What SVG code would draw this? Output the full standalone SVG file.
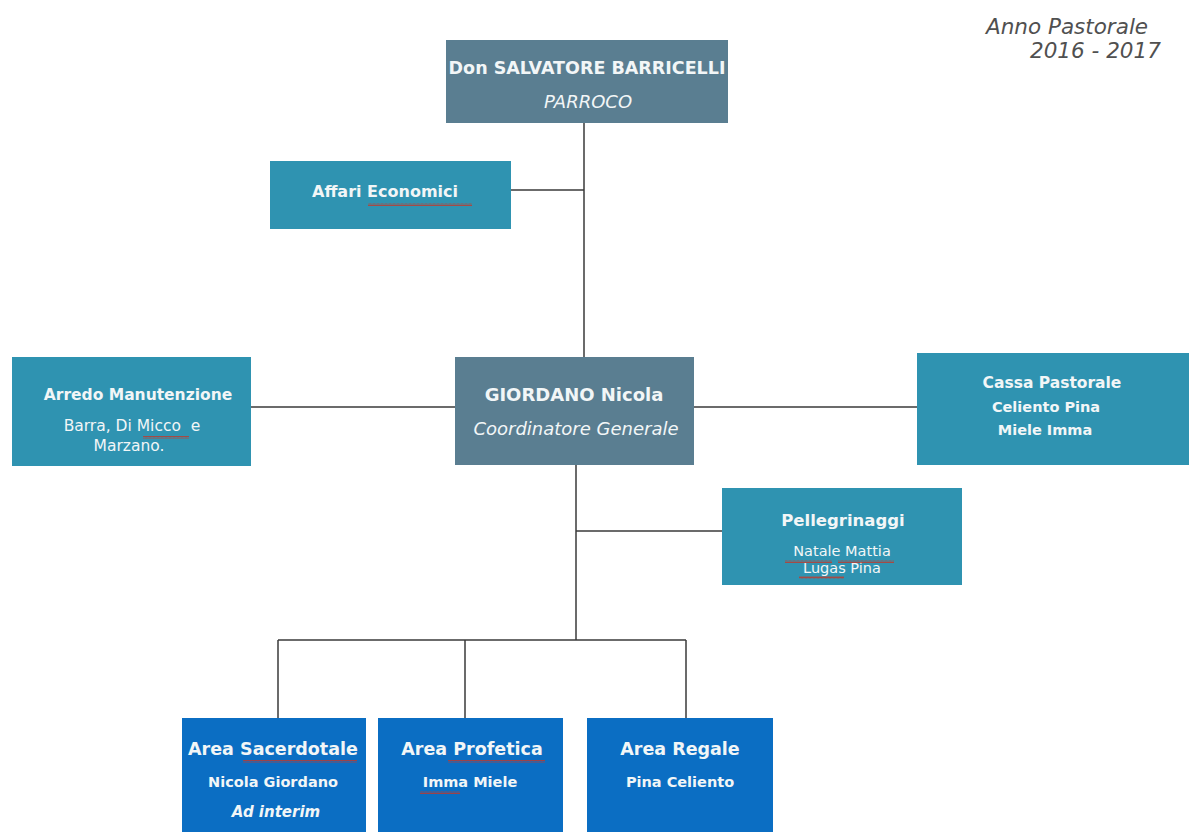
<svg xmlns="http://www.w3.org/2000/svg" width="1194" height="832" viewBox="0 0 1194 832">
<defs>
<style>
.gray{fill:#5a7e91}
.teal{fill:#2f93b1}
.blue{fill:#0b6ec3}
.t{font-family:"DejaVu Sans","Liberation Sans",sans-serif;fill:#f2f6f7;text-anchor:middle}
.b{font-weight:bold}
.i{font-style:italic}
.ln{stroke:#3a3a3a;stroke-width:1.5;fill:none}
.sq{fill:url(#wave)}
</style>
<pattern id="wave" width="4" height="3" patternUnits="userSpaceOnUse">
<path d="M0,2.5 L1,0.5 L2,2.5 L3,0.5 L4,2.5" stroke="#c0392b" stroke-width="0.8" fill="none"/>
</pattern>
</defs>
<rect width="1194" height="832" fill="#ffffff"/>
<g id="connectors">
<line class="ln" x1="584" y1="123" x2="584" y2="357"/>
<line class="ln" x1="511" y1="190" x2="584" y2="190"/>
<line class="ln" x1="251" y1="407" x2="455" y2="407"/>
<line class="ln" x1="694" y1="407" x2="917" y2="407"/>
<line class="ln" x1="576" y1="465" x2="576" y2="640"/>
<line class="ln" x1="576" y1="531" x2="722" y2="531"/>
<line class="ln" x1="278" y1="640" x2="686" y2="640"/>
<line class="ln" x1="278" y1="640" x2="278" y2="718"/>
<line class="ln" x1="465" y1="640" x2="465" y2="718"/>
<line class="ln" x1="686" y1="640" x2="686" y2="718"/>
</g>
<g id="anno">
<text x="986" y="34" font-family="DejaVu Sans, sans-serif" font-style="italic" font-size="21.5" fill="#505050">Anno Pastorale</text>
<text x="1030" y="58" font-family="DejaVu Sans, sans-serif" font-style="italic" font-size="21.5" fill="#505050">2016 - 2017</text>
</g>
<g id="parroco">
<rect class="gray" x="446" y="40" width="282" height="83"/>
<text class="t b" x="587" y="74" font-size="17.5">Don SALVATORE BARRICELLI</text>
<text class="t i" x="588" y="108" font-size="18">PARROCO</text>
</g>
<g id="affari">
<rect class="teal" x="270" y="161" width="241" height="68"/>
<text class="t b" x="385" y="197" font-size="16">Affari Economici</text>
<rect class="sq" x="368" y="203" width="104" height="3"/>
</g>
<g id="arredo">
<rect class="teal" x="12" y="357" width="239" height="109"/>
<text class="t b" x="138" y="400" font-size="15.5">Arredo Manutenzione</text>
<text class="t" x="132" y="431" font-size="15.5" xml:space="preserve">Barra, Di Micco  e</text>
<text class="t" x="129" y="451" font-size="15.5">Marzano.</text>
<rect class="sq" x="143" y="436" width="46" height="3"/>
</g>
<g id="giordano">
<rect class="gray" x="455" y="357" width="239" height="108"/>
<text class="t b" x="574" y="401" font-size="18">GIORDANO Nicola</text>
<text class="t i" x="576" y="435" font-size="18">Coordinatore Generale</text>
</g>
<g id="cassa">
<rect class="teal" x="917" y="353" width="272" height="112"/>
<text class="t b" x="1052" y="388" font-size="15.5">Cassa Pastorale</text>
<text class="t b" x="1046" y="412" font-size="14.5">Celiento Pina</text>
<text class="t b" x="1045" y="435" font-size="14.5">Miele Imma</text>
</g>
<g id="pellegrinaggi">
<rect class="teal" x="722" y="488" width="240" height="97"/>
<text class="t b" x="843" y="526" font-size="16.5">Pellegrinaggi</text>
<text class="t" x="842" y="556" font-size="14.5">Natale Mattia</text>
<text class="t" x="842" y="573" font-size="14.5">Lugas Pina</text>
<rect class="sq" x="785" y="560" width="47" height="3"/>
<rect class="sq" x="838" y="560" width="56" height="3"/>
<rect class="sq" x="799" y="576" width="45" height="3"/>
</g>
<g id="sacerdotale">
<rect class="blue" x="182" y="718" width="184" height="114"/>
<text class="t b" x="273" y="755" font-size="17.5">Area Sacerdotale</text>
<text class="t b" x="273" y="787" font-size="14.5">Nicola Giordano</text>
<text class="t b i" x="276" y="817" font-size="15">Ad interim</text>
<rect class="sq" x="243" y="760" width="114" height="3"/>
</g>
<g id="profetica">
<rect class="blue" x="378" y="718" width="185" height="114"/>
<text class="t b" x="472" y="755" font-size="17.5">Area Profetica</text>
<text class="t b" x="470" y="787" font-size="14.5">Imma Miele</text>
<rect class="sq" x="448" y="760" width="97" height="3"/>
<rect class="sq" x="420" y="791" width="40" height="3"/>
</g>
<g id="regale">
<rect class="blue" x="587" y="718" width="186" height="114"/>
<text class="t b" x="680" y="755" font-size="17.5">Area Regale</text>
<text class="t b" x="680" y="787" font-size="14.5">Pina Celiento</text>
</g>
</svg>
